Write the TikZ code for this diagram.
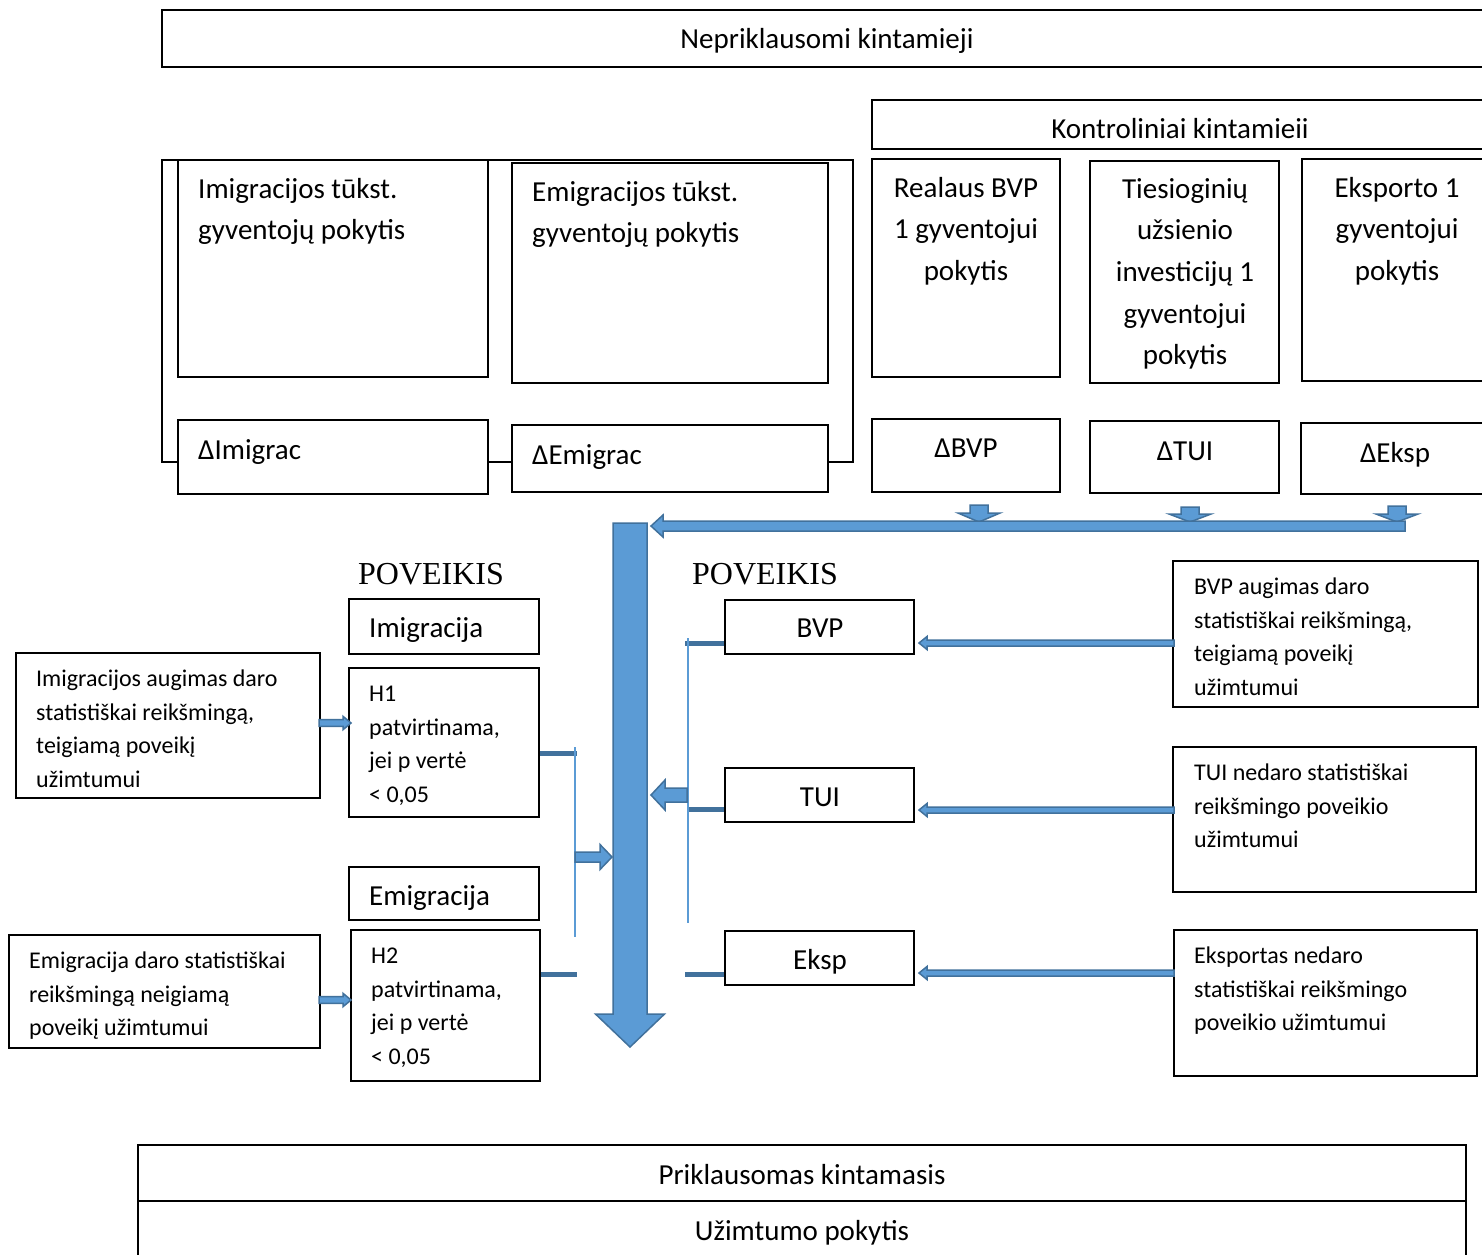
\documentclass[tikz,border=0pt]{standalone}
\usepackage{fontspec}
\setmainfont{Carlito}
\newfontfamily\timesf{Liberation Serif}
\usetikzlibrary{calc}
\definecolor{afill}{HTML}{5B9BD5}
\definecolor{aline}{HTML}{41719C}
\newcommand\bigf{\fontsize{29}{41.7}\selectfont}
\newcommand\smallf{\fontsize{24}{33.7}\selectfont}
\newcommand\mkbox[5]{\node[bx, minimum width={(#4-#2)*1pt}, minimum height={(#5-#3)*1pt}] (#1) at ({(#2+#4)/2},{(#3+#5)/2}) {};}
\newcommand\blockarrow[7]{\filldraw[barrow, shift={(#1,#2)}, rotate=#3] (0,-#5) -- ({#4-#7},-#5) -- ({#4-#7},-#6) -- (#4,0) -- ({#4-#7},#6) -- ({#4-#7},#5) -- (0,#5) -- cycle;}
\tikzset{
  bx/.style={draw=black, line width=1.5, fill=white, rectangle, inner sep=0pt},
  tb/.style={inner sep=0pt, font=\bigf},
  ts/.style={inner sep=0pt, font=\smallf},
  tp/.style={inner sep=0pt, font=\timesf\fontsize{32}{36}\selectfont},
  barrow/.style={fill=afill, draw=aline, line width=1.5, line join=miter},
  thick connector/.style={draw=aline, line width=5},
  thin connector/.style={draw=afill, line width=1.5},
}
\begin{document}
\begin{tikzpicture}[x=1pt, y=-1pt]
\clip (0,0) rectangle (1482,1254);
\fill[white] (0,0) rectangle (1482,1254);

% top headings
\mkbox{nep}{162}{10}{1500}{67}
\node[tb, anchor=base] (tnep) at (827,48) {Nepriklausomi kintamieji};
\mkbox{kon}{872}{100}{1500}{149}
\node[tb, anchor=base] (tkon) at (1180,138) {Kontroliniai kintamieii};

% outline group behind migration boxes
\draw[line width=1.2] (162,160) rectangle (853,462);

\mkbox{imig}{178}{160}{488}{377}
\node[tb, anchor=base west, align=left] (timig) at (198,239.7) {Imigracijos tūkst.\\gyventojų pokytis};
\mkbox{emig}{512}{163}{828}{383}
\node[tb, anchor=base west, align=left] (temig) at (532,242.7) {Emigracijos tūkst.\\gyventojų pokytis};
\mkbox{dimig}{178}{420}{488}{494}
\node[tb, anchor=base west] (tdimig) at (198,459) {ΔImigrac};
\mkbox{demig}{512}{425}{828}{492}
\node[tb, anchor=base west] (tdemig) at (532,464) {ΔEmigrac};

\mkbox{bvp}{872}{159}{1060}{377}
\node[tb, anchor=base, align=center] (tbvp) at (966,280.4) {Realaus BVP\\1 gyventojui\\pokytis};
\mkbox{tui}{1090}{161}{1279}{383}
\node[tb, anchor=base, align=center] (ttui) at (1185,364.8) {Tiesioginių\\užsienio\\investicijų 1\\gyventojui\\pokytis};
\mkbox{eks}{1302}{159}{1500}{381}
\node[tb, anchor=base, align=center] (teks) at (1397,280.4) {Eksporto 1\\gyventojui\\pokytis};

\mkbox{dbvp}{872}{419}{1060}{492}
\node[tb, anchor=base] (tdbvp) at (966,457) {ΔBVP};
\mkbox{dtui}{1090}{421}{1279}{493}
\node[tb, anchor=base] (tdtui) at (1185,460) {ΔTUI};
\mkbox{deks}{1301}{423}{1500}{494}
\node[tb, anchor=base] (tdeks) at (1395,462) {ΔEksp};

% arrows from control variables
\blockarrow{979}{505}{-90}{17}{9}{21}{9}
\blockarrow{1190}{507}{-90}{15}{9}{21}{8}
\blockarrow{1397}{506}{-90}{16}{9}{21}{8}
\blockarrow{1405}{526}{180}{754}{5}{11}{12}

% main vertical arrow
\blockarrow{630}{523}{-90}{524}{17}{34.5}{33}

% POVEIKIS labels
\node[tp, anchor=base] (pov1) at (431,584) {POVEIKIS};
\node[tp, anchor=base] (pov2) at (765,584) {POVEIKIS};

% left column
\mkbox{limig}{349}{599}{539}{654}
\node[tb, anchor=base west] (tlimig) at (369,637) {Imigracija};
\mkbox{h1}{349}{668}{539}{817}
\node[ts, anchor=base west, align=left] (th1) at (369,802.6) {H1\\patvirtinama,\\jei p vertė\\< 0,05};
\mkbox{lemig}{349}{867}{539}{920}
\node[tb, anchor=base west] (tlemig) at (369,905) {Emigracija};
\mkbox{h2}{351}{930}{540}{1081}
\node[ts, anchor=base west, align=left] (th2) at (371,1064.6) {H2\\patvirtinama,\\jei p vertė\\< 0,05};

\mkbox{d1}{16}{653}{320}{798}
\node[ts, anchor=base west, align=left] (td1) at (36,787.6) {Imigracijos augimas daro\\statistiškai reikšmingą,\\teigiamą poveikį\\užimtumui};
\mkbox{d2}{9}{935}{320}{1048}
\node[ts, anchor=base west, align=left] (td2) at (29,1035.9) {Emigracija daro statistiškai\\reikšmingą neigiamą\\poveikį užimtumui};

\blockarrow{319}{723}{0}{32}{3.3}{6.7}{8}
\blockarrow{319}{1000}{0}{32}{3.3}{6.7}{8}

% middle column
\mkbox{mbvp}{725}{600}{914}{654}
\node[tb, anchor=base] (tmbvp) at (820,637) {BVP};
\mkbox{mtui}{725}{768}{914}{822}
\node[tb, anchor=base] (tmtui) at (820,806) {TUI};
\mkbox{meks}{725}{931}{914}{985}
\node[tb, anchor=base] (tmeks) at (820,969) {Eksp};

% right column
\mkbox{r1}{1173}{561}{1478}{707}
\node[ts, anchor=base west, align=left] (tr1) at (1194,695.6) {BVP augimas daro\\statistiškai reikšmingą,\\teigiamą poveikį\\užimtumui};
\mkbox{r2}{1173}{747}{1476}{892}
\node[ts, anchor=base west, align=left] (tr2) at (1194,847.9) {TUI nedaro statistiškai\\reikšmingo poveikio\\užimtumui};
\mkbox{r3}{1174}{930}{1477}{1076}
\node[ts, anchor=base west, align=left] (tr3) at (1194,1030.9) {Eksportas nedaro\\statistiškai reikšmingo\\poveikio užimtumui};

\blockarrow{1174}{643}{180}{255}{3}{6.5}{8}
\blockarrow{1174}{810}{180}{255}{3}{6.5}{8}
\blockarrow{1174}{973}{180}{255}{3}{6.5}{8}

% connectors into the main arrow
\path[thick connector] (h1.east |- 0,753) -- (577,753);
\path[thick connector] (h2.east |- 0,974) -- (577,974);
\path[thin connector] (575,747) -- (575,937);
\blockarrow{575}{857}{0}{37}{5}{12.5}{12}

\path[thick connector] (685,643) -- (mbvp.west |- 0,643);
\path[thick connector] (687,809) -- (mtui.west |- 0,809);
\path[thick connector] (685,974) -- (meks.west |- 0,974);
\path[thin connector] (688,638) -- (688,923);
\blockarrow{687}{795}{180}{36}{7}{15}{14}

% bottom
\mkbox{pri}{138}{1145}{1466}{1201}
\node[tb, anchor=base] (tpri) at (802,1184) {Priklausomas kintamasis};
\mkbox{uzi}{138}{1201}{1466}{1280}
\node[tb, anchor=base] (tuzi) at (802,1240) {Užimtumo pokytis};
\end{tikzpicture}
\end{document}
